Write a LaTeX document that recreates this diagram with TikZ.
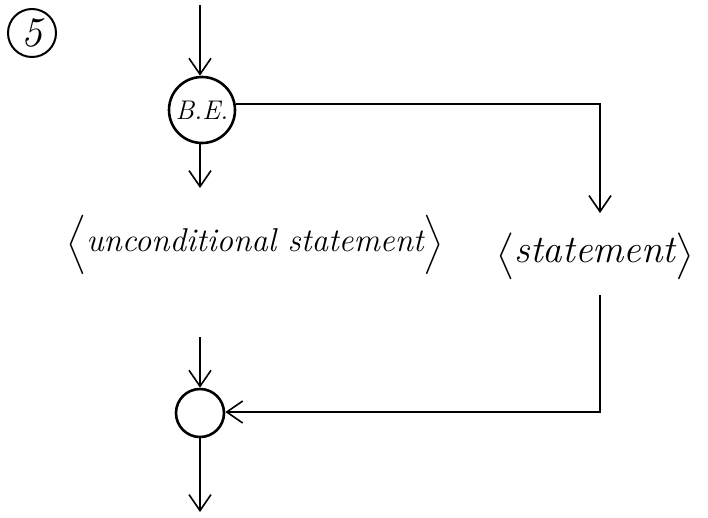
\documentclass[tikz,border=0pt]{standalone}
\usepackage{amsmath,amssymb}
\usepackage{fontspec}
\usetikzlibrary{positioning, calc, arrows.meta}

\tikzset{
    flow/.style={line width=1.6pt, -{Straight Barb[length=16pt, width=22pt, line width=1.6pt]}},
    junction/.style={circle, draw, line width=2.6pt, inner sep=0pt},
    label text/.style={font=\fontsize{33}{36}\selectfont\itshape, inner sep=2pt},
}

\begin{document}
\begin{tikzpicture}[x=1pt, y=-1pt]
    \useasboundingbox (0,0) rectangle (708,517);

    % section number
    \node[junction, line width=2pt, minimum size=48pt, font=\fontsize{42}{42}\selectfont\itshape] (num) at (32,33) {5};

    % boolean expression test
    \node[junction, minimum size=66pt, font=\fontsize{27}{27}\selectfont\itshape] (be) at (202,110) {B.E.};
    \coordinate (entry) at (200,5);
    \draw[flow] (entry) -- (be.north -| entry);
    \coordinate (truetip) at (200,188);
    \draw[flow] (be.south -| truetip) -- (truetip);

    % the two alternatives
    \node[label text] (uncond) at (255,245) {$\Big\langle$unconditional statement$\Big\rangle$};
    \node[label text, font=\fontsize{39}{40}\selectfont\itshape] (stmt) at (595,256) {$\Big\langle$statement$\Big\rangle$};

    \coordinate (rtop) at (600,104);
    \coordinate (stmtin) at (600,213);
    \draw[flow] (be.10) -- (rtop) -- (stmtin);

    % merging point
    \node[junction, minimum size=48pt] (merge) at (200,413) {};
    \coordinate (uncondout) at (200,337);
    \coordinate (stmtout) at (600,295);
    \coordinate (rbot) at (600,412);
    \draw[flow] (uncondout) -- (merge.north);
    \draw[flow] (stmtout) -- (rbot) -- (merge.east |- rbot);
    \coordinate (exit) at (200,512);
    \draw[flow] (merge.south) -- (exit);

\end{tikzpicture}
\end{document}
